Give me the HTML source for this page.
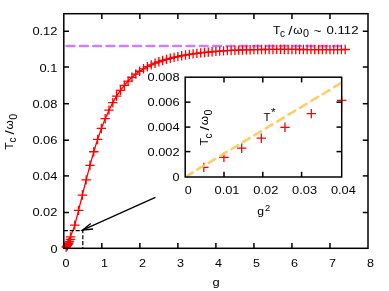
<!DOCTYPE html>
<html><head><meta charset="utf-8"><title>Tc vs g</title>
<style>html,body{margin:0;padding:0;background:#fff;overflow:hidden}svg{display:block;will-change:transform;filter:grayscale(0)}text{font-family:"Liberation Sans",sans-serif}</style></head>
<body>
<svg width="389" height="291" viewBox="0 0 389 291">
<rect width="389" height="291" fill="#fff"/>
<line x1="66.70" y1="46.00" x2="345.60" y2="46.00" stroke="#cf7cff" stroke-width="2.6" stroke-dasharray="7.7 5.62" stroke-linecap="round"/>
<polyline points="66.20,247.00 67.30,245.70 68.00,244.40 68.70,243.00 69.40,241.45 70.40,239.40 70.50,236.90 74.76,225.12 78.56,210.39 82.36,195.07 86.16,179.86 89.97,165.30 93.77,151.74 97.57,139.43 101.37,128.44 105.18,118.72 108.98,110.16 112.78,102.65 116.58,96.07 120.43,90.34 124.28,85.35 128.13,81.03 131.97,77.28 135.82,74.04 139.67,71.23 143.52,68.80 147.36,66.69 151.21,64.84 155.06,63.22 158.86,61.78 162.66,60.50 166.47,59.35 170.27,58.31 174.07,57.38 177.88,56.53 181.68,55.76 185.48,55.07 189.28,54.44 193.08,53.87 196.89,53.36 200.69,52.89 204.49,52.47 208.29,52.08 212.10,51.74 215.90,51.42 219.70,51.13 223.50,50.87 227.31,50.64 231.11,50.43 234.91,50.25 238.71,50.09 242.52,49.95 246.32,49.83 250.12,49.73 253.93,49.64 257.73,49.57 261.53,49.52 265.33,49.48 269.13,49.45 272.94,49.43 276.74,49.42 280.54,49.42 284.34,49.43 288.15,49.44 291.95,49.45 295.75,49.47 299.56,49.49 303.36,49.52 307.16,49.54 310.96,49.56 314.76,49.58 318.57,49.59 322.37,49.60 326.17,49.60 329.98,49.60 333.78,49.58 337.58,49.56 341.38,49.53 345.19,49.49" fill="none" stroke="#ff0000" stroke-width="1.3" stroke-linejoin="round"/>
<path d="M61.50 247.00h9.4M66.20 242.30v9.4M62.60 245.70h9.4M67.30 241.00v9.4M63.30 244.40h9.4M68.00 239.70v9.4M64.00 243.00h9.4M68.70 238.30v9.4M64.70 241.45h9.4M69.40 236.75v9.4M65.70 239.40h9.4M70.40 234.70v9.4M65.80 236.90h9.4M70.50 232.20v9.4M70.06 225.12h9.4M74.76 220.42v9.4M73.86 210.39h9.4M78.56 205.69v9.4M77.66 195.07h9.4M82.36 190.37v9.4M81.46 179.86h9.4M86.16 175.16v9.4M85.27 165.30h9.4M89.97 160.60v9.4M89.07 151.74h9.4M93.77 147.04v9.4M92.87 139.43h9.4M97.57 134.73v9.4M96.67 128.44h9.4M101.37 123.74v9.4M100.48 118.72h9.4M105.18 114.02v9.4M104.28 110.16h9.4M108.98 105.46v9.4M108.08 102.65h9.4M112.78 97.95v9.4M111.88 96.07h9.4M116.58 91.37v9.4M115.73 90.34h9.4M120.43 85.64v9.4M119.58 85.35h9.4M124.28 80.65v9.4M123.43 81.03h9.4M128.13 76.33v9.4M127.27 77.28h9.4M131.97 72.58v9.4M131.12 74.04h9.4M135.82 69.34v9.4M134.97 71.23h9.4M139.67 66.53v9.4M138.82 68.80h9.4M143.52 64.10v9.4M142.66 66.69h9.4M147.36 61.99v9.4M146.51 64.84h9.4M151.21 60.14v9.4M150.36 63.22h9.4M155.06 58.52v9.4M154.16 61.78h9.4M158.86 57.08v9.4M157.97 60.50h9.4M162.66 55.80v9.4M161.77 59.35h9.4M166.47 54.65v9.4M165.57 58.31h9.4M170.27 53.61v9.4M169.37 57.38h9.4M174.07 52.68v9.4M173.18 56.53h9.4M177.88 51.83v9.4M176.98 55.76h9.4M181.68 51.06v9.4M180.78 55.07h9.4M185.48 50.37v9.4M184.58 54.44h9.4M189.28 49.74v9.4M188.38 53.87h9.4M193.08 49.17v9.4M192.19 53.36h9.4M196.89 48.66v9.4M195.99 52.89h9.4M200.69 48.19v9.4M199.79 52.47h9.4M204.49 47.77v9.4M203.59 52.08h9.4M208.29 47.38v9.4M207.40 51.74h9.4M212.10 47.04v9.4M211.20 51.42h9.4M215.90 46.72v9.4M215.00 51.13h9.4M219.70 46.43v9.4M218.81 50.87h9.4M223.50 46.17v9.4M222.61 50.64h9.4M227.31 45.94v9.4M226.41 50.43h9.4M231.11 45.73v9.4M230.21 50.25h9.4M234.91 45.55v9.4M234.01 50.09h9.4M238.71 45.39v9.4M237.82 49.95h9.4M242.52 45.25v9.4M241.62 49.83h9.4M246.32 45.13v9.4M245.42 49.73h9.4M250.12 45.03v9.4M249.23 49.64h9.4M253.93 44.94v9.4M253.03 49.57h9.4M257.73 44.87v9.4M256.83 49.52h9.4M261.53 44.82v9.4M260.63 49.48h9.4M265.33 44.78v9.4M264.44 49.45h9.4M269.13 44.75v9.4M268.24 49.43h9.4M272.94 44.73v9.4M272.04 49.42h9.4M276.74 44.72v9.4M275.84 49.42h9.4M280.54 44.72v9.4M279.64 49.43h9.4M284.34 44.73v9.4M283.45 49.44h9.4M288.15 44.74v9.4M287.25 49.45h9.4M291.95 44.75v9.4M291.05 49.47h9.4M295.75 44.77v9.4M294.86 49.49h9.4M299.56 44.79v9.4M298.66 49.52h9.4M303.36 44.82v9.4M302.46 49.54h9.4M307.16 44.84v9.4M306.26 49.56h9.4M310.96 44.86v9.4M310.06 49.58h9.4M314.76 44.88v9.4M313.87 49.59h9.4M318.57 44.89v9.4M317.67 49.60h9.4M322.37 44.90v9.4M321.47 49.60h9.4M326.17 44.90v9.4M325.28 49.60h9.4M329.98 44.90v9.4M329.08 49.58h9.4M333.78 44.88v9.4M332.88 49.56h9.4M337.58 44.86v9.4M336.68 49.53h9.4M341.38 44.83v9.4M340.49 49.49h9.4M345.19 44.79v9.4" fill="none" stroke="#ff0000" stroke-width="1.3"/>
<path d="M63.80 230.55H82.81V248.30" fill="none" stroke="#000" stroke-width="1.2" stroke-dasharray="4.1 1.8"/>
<line x1="155.40" y1="197.30" x2="82.50" y2="230.20" stroke="#000" stroke-width="1.3" />
<path d="M90.8 223.4L82.5 230.2L93.0 229.0" fill="none" stroke="#000" stroke-width="1.3" stroke-linejoin="miter"/>
<rect x="63.80" y="13.70" width="304.20" height="234.60" fill="none" stroke="#000" stroke-width="1.5"/>
<text x="66.00" y="266.80" font-family="Liberation Sans, sans-serif" font-size="11.2" text-anchor="middle" fill="#000" textLength="7.00" lengthAdjust="spacingAndGlyphs" >0</text>
<line x1="101.82" y1="248.30" x2="101.82" y2="243.10" stroke="#000" stroke-width="1.5" />
<line x1="101.82" y1="13.70" x2="101.82" y2="18.90" stroke="#000" stroke-width="1.5" />
<text x="104.42" y="266.80" font-family="Liberation Sans, sans-serif" font-size="11.2" text-anchor="middle" fill="#000" textLength="7.00" lengthAdjust="spacingAndGlyphs" >1</text>
<line x1="139.85" y1="248.30" x2="139.85" y2="243.10" stroke="#000" stroke-width="1.5" />
<line x1="139.85" y1="13.70" x2="139.85" y2="18.90" stroke="#000" stroke-width="1.5" />
<text x="142.45" y="266.80" font-family="Liberation Sans, sans-serif" font-size="11.2" text-anchor="middle" fill="#000" textLength="7.00" lengthAdjust="spacingAndGlyphs" >2</text>
<line x1="177.88" y1="248.30" x2="177.88" y2="243.10" stroke="#000" stroke-width="1.5" />
<line x1="177.88" y1="13.70" x2="177.88" y2="18.90" stroke="#000" stroke-width="1.5" />
<text x="180.47" y="266.80" font-family="Liberation Sans, sans-serif" font-size="11.2" text-anchor="middle" fill="#000" textLength="7.00" lengthAdjust="spacingAndGlyphs" >3</text>
<line x1="215.90" y1="248.30" x2="215.90" y2="243.10" stroke="#000" stroke-width="1.5" />
<line x1="215.90" y1="13.70" x2="215.90" y2="18.90" stroke="#000" stroke-width="1.5" />
<text x="218.50" y="266.80" font-family="Liberation Sans, sans-serif" font-size="11.2" text-anchor="middle" fill="#000" textLength="7.00" lengthAdjust="spacingAndGlyphs" >4</text>
<line x1="253.93" y1="248.30" x2="253.93" y2="243.10" stroke="#000" stroke-width="1.5" />
<line x1="253.93" y1="13.70" x2="253.93" y2="18.90" stroke="#000" stroke-width="1.5" />
<text x="256.53" y="266.80" font-family="Liberation Sans, sans-serif" font-size="11.2" text-anchor="middle" fill="#000" textLength="7.00" lengthAdjust="spacingAndGlyphs" >5</text>
<line x1="291.95" y1="248.30" x2="291.95" y2="243.10" stroke="#000" stroke-width="1.5" />
<line x1="291.95" y1="13.70" x2="291.95" y2="18.90" stroke="#000" stroke-width="1.5" />
<text x="294.55" y="266.80" font-family="Liberation Sans, sans-serif" font-size="11.2" text-anchor="middle" fill="#000" textLength="7.00" lengthAdjust="spacingAndGlyphs" >6</text>
<line x1="329.98" y1="248.30" x2="329.98" y2="243.10" stroke="#000" stroke-width="1.5" />
<line x1="329.98" y1="13.70" x2="329.98" y2="18.90" stroke="#000" stroke-width="1.5" />
<text x="332.58" y="266.80" font-family="Liberation Sans, sans-serif" font-size="11.2" text-anchor="middle" fill="#000" textLength="7.00" lengthAdjust="spacingAndGlyphs" >7</text>
<text x="370.60" y="266.80" font-family="Liberation Sans, sans-serif" font-size="11.2" text-anchor="middle" fill="#000" textLength="7.00" lengthAdjust="spacingAndGlyphs" >8</text>
<text x="57.40" y="252.70" font-family="Liberation Sans, sans-serif" font-size="11.2" text-anchor="end" fill="#000" textLength="7.00" lengthAdjust="spacingAndGlyphs" >0</text>
<line x1="63.80" y1="212.50" x2="69.00" y2="212.50" stroke="#000" stroke-width="1.5" />
<line x1="368.00" y1="212.50" x2="362.80" y2="212.50" stroke="#000" stroke-width="1.5" />
<text x="57.40" y="216.40" font-family="Liberation Sans, sans-serif" font-size="11.2" text-anchor="end" fill="#000" textLength="25.00" lengthAdjust="spacingAndGlyphs" >0.02</text>
<line x1="63.80" y1="175.90" x2="69.00" y2="175.90" stroke="#000" stroke-width="1.5" />
<line x1="368.00" y1="175.90" x2="362.80" y2="175.90" stroke="#000" stroke-width="1.5" />
<text x="57.40" y="180.40" font-family="Liberation Sans, sans-serif" font-size="11.2" text-anchor="end" fill="#000" textLength="25.00" lengthAdjust="spacingAndGlyphs" >0.04</text>
<line x1="63.80" y1="140.20" x2="69.00" y2="140.20" stroke="#000" stroke-width="1.5" />
<line x1="368.00" y1="140.20" x2="362.80" y2="140.20" stroke="#000" stroke-width="1.5" />
<text x="57.40" y="144.00" font-family="Liberation Sans, sans-serif" font-size="11.2" text-anchor="end" fill="#000" textLength="25.00" lengthAdjust="spacingAndGlyphs" >0.06</text>
<line x1="63.80" y1="103.70" x2="69.00" y2="103.70" stroke="#000" stroke-width="1.5" />
<line x1="368.00" y1="103.70" x2="362.80" y2="103.70" stroke="#000" stroke-width="1.5" />
<text x="57.40" y="108.10" font-family="Liberation Sans, sans-serif" font-size="11.2" text-anchor="end" fill="#000" textLength="25.00" lengthAdjust="spacingAndGlyphs" >0.08</text>
<line x1="63.80" y1="67.00" x2="69.00" y2="67.00" stroke="#000" stroke-width="1.5" />
<line x1="368.00" y1="67.00" x2="362.80" y2="67.00" stroke="#000" stroke-width="1.5" />
<text x="57.40" y="72.00" font-family="Liberation Sans, sans-serif" font-size="11.2" text-anchor="end" fill="#000" textLength="18.00" lengthAdjust="spacingAndGlyphs" >0.1</text>
<line x1="63.80" y1="31.25" x2="69.00" y2="31.25" stroke="#000" stroke-width="1.5" />
<line x1="368.00" y1="31.25" x2="362.80" y2="31.25" stroke="#000" stroke-width="1.5" />
<text x="57.40" y="35.40" font-family="Liberation Sans, sans-serif" font-size="11.2" text-anchor="end" fill="#000" textLength="25.00" lengthAdjust="spacingAndGlyphs" >0.12</text>
<rect x="185.20" y="77.20" width="156.50" height="99.80" fill="#fff" stroke="none"/>
<path d="M199.10 167.40h9.4M203.80 162.70v9.4M219.20 157.30h9.4M223.90 152.60v9.4M237.00 148.20h9.4M241.70 143.50v9.4M256.60 138.20h9.4M261.30 133.50v9.4M280.30 127.30h9.4M285.00 122.60v9.4M306.60 113.60h9.4M311.30 108.90v9.4M336.90 100.40h9.4M341.60 95.70v9.4" fill="none" stroke="#ff0000" stroke-width="1.3"/>
<line x1="185.90" y1="176.58" x2="341.70" y2="82.63" stroke="#ffcd6b" stroke-width="2.6" stroke-dasharray="7.7 5.62" stroke-linecap="round"/>
<rect x="185.20" y="77.20" width="156.50" height="99.80" fill="none" stroke="#000" stroke-width="1.5"/>
<text x="188.20" y="194.20" font-family="Liberation Sans, sans-serif" font-size="11.2" text-anchor="middle" fill="#000" textLength="7.00" lengthAdjust="spacingAndGlyphs" >0</text>
<line x1="224.00" y1="177.00" x2="224.00" y2="171.80" stroke="#000" stroke-width="1.5" />
<line x1="224.00" y1="77.20" x2="224.00" y2="82.40" stroke="#000" stroke-width="1.5" />
<text x="227.00" y="194.20" font-family="Liberation Sans, sans-serif" font-size="11.2" text-anchor="middle" fill="#000" textLength="25.00" lengthAdjust="spacingAndGlyphs" >0.01</text>
<line x1="262.80" y1="177.00" x2="262.80" y2="171.80" stroke="#000" stroke-width="1.5" />
<line x1="262.80" y1="77.20" x2="262.80" y2="82.40" stroke="#000" stroke-width="1.5" />
<text x="265.80" y="194.20" font-family="Liberation Sans, sans-serif" font-size="11.2" text-anchor="middle" fill="#000" textLength="25.00" lengthAdjust="spacingAndGlyphs" >0.02</text>
<line x1="301.60" y1="177.00" x2="301.60" y2="171.80" stroke="#000" stroke-width="1.5" />
<line x1="301.60" y1="77.20" x2="301.60" y2="82.40" stroke="#000" stroke-width="1.5" />
<text x="304.60" y="194.20" font-family="Liberation Sans, sans-serif" font-size="11.2" text-anchor="middle" fill="#000" textLength="25.00" lengthAdjust="spacingAndGlyphs" >0.03</text>
<text x="343.40" y="194.20" font-family="Liberation Sans, sans-serif" font-size="11.2" text-anchor="middle" fill="#000" textLength="25.00" lengthAdjust="spacingAndGlyphs" >0.04</text>
<text x="179.60" y="181.30" font-family="Liberation Sans, sans-serif" font-size="11.2" text-anchor="end" fill="#000" textLength="7.00" lengthAdjust="spacingAndGlyphs" >0</text>
<line x1="185.20" y1="151.60" x2="190.40" y2="151.60" stroke="#000" stroke-width="1.5" />
<line x1="341.70" y1="151.60" x2="336.50" y2="151.60" stroke="#000" stroke-width="1.5" />
<text x="179.60" y="156.05" font-family="Liberation Sans, sans-serif" font-size="11.2" text-anchor="end" fill="#000" textLength="32.00" lengthAdjust="spacingAndGlyphs" >0.002</text>
<line x1="185.20" y1="127.10" x2="190.40" y2="127.10" stroke="#000" stroke-width="1.5" />
<line x1="341.70" y1="127.10" x2="336.50" y2="127.10" stroke="#000" stroke-width="1.5" />
<text x="179.60" y="131.30" font-family="Liberation Sans, sans-serif" font-size="11.2" text-anchor="end" fill="#000" textLength="32.00" lengthAdjust="spacingAndGlyphs" >0.004</text>
<line x1="185.20" y1="102.15" x2="190.40" y2="102.15" stroke="#000" stroke-width="1.5" />
<line x1="341.70" y1="102.15" x2="336.50" y2="102.15" stroke="#000" stroke-width="1.5" />
<text x="179.60" y="105.95" font-family="Liberation Sans, sans-serif" font-size="11.2" text-anchor="end" fill="#000" textLength="32.00" lengthAdjust="spacingAndGlyphs" >0.006</text>
<text x="179.60" y="81.00" font-family="Liberation Sans, sans-serif" font-size="11.2" text-anchor="end" fill="#000" textLength="32.00" lengthAdjust="spacingAndGlyphs" >0.008</text>
<text x="273.00" y="33.60" font-family="Liberation Sans, sans-serif" font-size="11.2" text-anchor="start" fill="#000" textLength="7.50" lengthAdjust="spacingAndGlyphs" >T</text>
<text x="280.10" y="37.20" font-family="Liberation Sans, sans-serif" font-size="10.0" text-anchor="start" fill="#000" textLength="5.00" lengthAdjust="spacingAndGlyphs" >c</text>
<text x="288.20" y="34.60" font-family="Liberation Sans, sans-serif" font-size="13.0" text-anchor="start" fill="#000" textLength="4.20" lengthAdjust="spacingAndGlyphs" >/</text>
<text x="293.30" y="33.60" font-family="Liberation Sans, sans-serif" font-size="11.2" text-anchor="start" fill="#000" textLength="9.30" lengthAdjust="spacingAndGlyphs" >&#969;</text>
<text x="303.00" y="37.30" font-family="Liberation Sans, sans-serif" font-size="10.0" text-anchor="start" fill="#000" textLength="6.00" lengthAdjust="spacingAndGlyphs" >0</text>
<text x="313.40" y="34.80" font-family="Liberation Sans, sans-serif" font-size="11.2" text-anchor="start" fill="#000" textLength="8.00" lengthAdjust="spacingAndGlyphs" >~</text>
<text x="326.50" y="33.60" font-family="Liberation Sans, sans-serif" font-size="11.2" text-anchor="start" fill="#000" textLength="32.00" lengthAdjust="spacingAndGlyphs" >0.112</text>
<g transform="translate(12.8 149.4) rotate(-90)">
<text x="-0.30" y="0.00" font-family="Liberation Sans, sans-serif" font-size="11.2" text-anchor="start" fill="#000" textLength="7.50" lengthAdjust="spacingAndGlyphs" >T</text>
<text x="6.80" y="3.60" font-family="Liberation Sans, sans-serif" font-size="10.0" text-anchor="start" fill="#000" textLength="5.00" lengthAdjust="spacingAndGlyphs" >c</text>
<text x="14.90" y="1.00" font-family="Liberation Sans, sans-serif" font-size="13.0" text-anchor="start" fill="#000" textLength="4.20" lengthAdjust="spacingAndGlyphs" >/</text>
<text x="20.00" y="0.00" font-family="Liberation Sans, sans-serif" font-size="11.2" text-anchor="start" fill="#000" textLength="9.30" lengthAdjust="spacingAndGlyphs" >&#969;</text>
<text x="29.70" y="3.70" font-family="Liberation Sans, sans-serif" font-size="10.0" text-anchor="start" fill="#000" textLength="6.00" lengthAdjust="spacingAndGlyphs" >0</text>
</g>
<g transform="translate(208.1 145.3) rotate(-90)">
<text x="-0.30" y="0.00" font-family="Liberation Sans, sans-serif" font-size="11.2" text-anchor="start" fill="#000" textLength="7.50" lengthAdjust="spacingAndGlyphs" >T</text>
<text x="6.80" y="3.60" font-family="Liberation Sans, sans-serif" font-size="10.0" text-anchor="start" fill="#000" textLength="5.00" lengthAdjust="spacingAndGlyphs" >c</text>
<text x="14.90" y="1.00" font-family="Liberation Sans, sans-serif" font-size="13.0" text-anchor="start" fill="#000" textLength="4.20" lengthAdjust="spacingAndGlyphs" >/</text>
<text x="20.00" y="0.00" font-family="Liberation Sans, sans-serif" font-size="11.2" text-anchor="start" fill="#000" textLength="9.30" lengthAdjust="spacingAndGlyphs" >&#969;</text>
<text x="29.70" y="3.70" font-family="Liberation Sans, sans-serif" font-size="10.0" text-anchor="start" fill="#000" textLength="6.00" lengthAdjust="spacingAndGlyphs" >0</text>
</g>
<text x="212.60" y="286.30" font-family="Liberation Sans, sans-serif" font-size="11.2" text-anchor="start" fill="#000" textLength="7.20" lengthAdjust="spacingAndGlyphs" >g</text>
<text x="257.20" y="214.60" font-family="Liberation Sans, sans-serif" font-size="11.2" text-anchor="start" fill="#000" textLength="6.80" lengthAdjust="spacingAndGlyphs" >g</text>
<text x="265.00" y="210.60" font-family="Liberation Sans, sans-serif" font-size="9.0" text-anchor="start" fill="#000" textLength="5.20" lengthAdjust="spacingAndGlyphs" >2</text>
<text x="263.40" y="120.80" font-family="Liberation Sans, sans-serif" font-size="11.2" text-anchor="start" fill="#000" textLength="7.00" lengthAdjust="spacingAndGlyphs" >T</text>
<text x="270.90" y="115.50" font-family="Liberation Sans, sans-serif" font-size="10.0" text-anchor="start" fill="#000" textLength="4.60" lengthAdjust="spacingAndGlyphs" >*</text>
</svg>
</body></html>
